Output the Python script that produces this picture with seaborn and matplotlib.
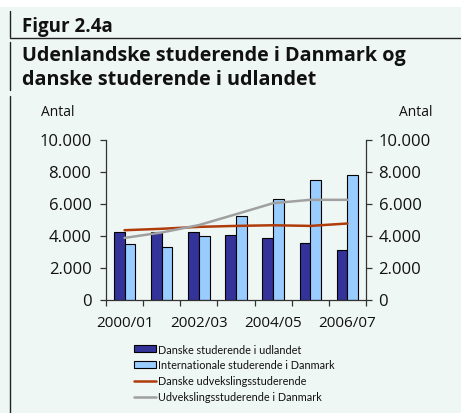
import numpy as np
import pandas as pd
import matplotlib
matplotlib.use("Agg")
import matplotlib.pyplot as plt
from matplotlib.patches import Patch, Rectangle
from matplotlib.lines import Line2D
from matplotlib.ticker import FuncFormatter
import seaborn as sns

# ---------------- data ----------------
years = ["2000/01", "2001/02", "2002/03", "2003/04", "2004/05", "2005/06", "2006/07"]
danske_udlandet = [4250, 4210, 4210, 4060, 3850, 3520, 3125]
internationale_dk = [3440, 3270, 3940, 5210, 6290, 7460, 7770]
danske_udveksling = [4330, 4420, 4540, 4600, 4640, 4600, 4750]
udveksling_dk = [3850, 4190, 4650, 5330, 6020, 6230, 6230]
series_names = ["Danske studerende i udlandet",
                "Internationale studerende i Danmark",
                "Danske udvekslingsstuderende",
                "Udvekslingsstuderende i Danmark"]
label_years = ["2000/01", "2002/03", "2004/05", "2006/07"]
yticks = [0, 2000, 4000, 6000, 8000, 10000]

colors = ["#333399", "#99ccff", "#b03c0c", "#a0a0a0"]
bg = "#eff7f4"

bars = pd.DataFrame({
    "year": years * 2,
    "value": danske_udlandet + internationale_dk,
    "series": [series_names[0]] * len(years) + [series_names[1]] * len(years),
})
lines = pd.DataFrame({
    "pos": list(range(len(years))) * 2,
    "value": danske_udveksling + udveksling_dk,
    "series": [series_names[2]] * len(years) + [series_names[3]] * len(years),
})

sns.set_theme(style="white")
main_font = ["Open Sans", "DejaVu Sans"]
leg_font = ["Lato", "DejaVu Sans"]
plt.rcParams["font.family"] = main_font

W, H = 461, 414
fig = plt.figure(figsize=(W / 100, H / 100), dpi=100)
fig.patch.set_facecolor(bg)

def fx(x):
    return x / W

def fy(y):
    return 1 - y / H

# white band at top
fig.add_artist(Rectangle((0, fy(8)), 1, 8 / H, transform=fig.transFigure,
                         facecolor="white", edgecolor="none", zorder=0))
# frame lines
lc = "#222222"
for (y0, y1) in [(12, 38), (43, 91), (97, 414)]:
    fig.add_artist(Line2D([fx(9.5), fx(9.5)], [fy(y0), fy(y1)], color=lc, lw=1.0))
fig.add_artist(Line2D([fx(9.5), 1], [fy(39), fy(39)], color=lc, lw=1.0))

txt = "#111111"
fig.text(fx(22), fy(32), "Figur 2.4a", fontsize=13.5, fontweight="bold",
         color=txt, va="baseline", ha="left")
fig.text(fx(22), fy(61), "Udenlandske studerende i Danmark og", fontsize=14.2,
         fontweight="bold", color=txt, va="baseline", ha="left")
fig.text(fx(22), fy(85), "danske studerende i udlandet", fontsize=14.2,
         fontweight="bold", color=txt, va="baseline", ha="left")
fig.text(fx(41), fy(116), "Antal", fontsize=10, color=txt, va="baseline", ha="left")
fig.text(fx(432), fy(116), "Antal", fontsize=10, color=txt, va="baseline", ha="right")

# axes
left, right, top, bottom = 106, 366, 140.5, 300.5
ax = fig.add_axes([fx(left), fy(bottom), (right - left) / W, (bottom - top) / H])
ax.set_facecolor("none")

sns.barplot(data=bars, x="year", y="value", hue="series", order=years,
            hue_order=series_names[:2], palette=colors[:2], width=0.58,
            edgecolor="black", linewidth=0.8, saturation=1, ax=ax, legend=False)
sns.lineplot(data=lines, x="pos", y="value", hue="series",
             hue_order=series_names[2:], palette=colors[2:], linewidth=1.8,
             ax=ax, legend=False, zorder=5)

ax.set_xlim(-0.5, len(years) - 0.5)
ax.set_ylim(0, 10000)
ax.set_xlabel("")
ax.set_ylabel("")

fmt = FuncFormatter(lambda v, p: f"{int(v):,}".replace(",", "."))
ax.set_yticks(yticks)
ax.yaxis.set_major_formatter(fmt)

ax.set_xticks(np.arange(-0.5, len(years), 1.0))
ax.set_xticklabels([])
ax.set_xticks([years.index(y) for y in label_years], minor=True)
ax.set_xticklabels(label_years, minor=True)

ax.tick_params(axis="x", which="major", length=4, width=0.9, color="#333333",
               direction="out", bottom=True)
ax.tick_params(axis="x", which="minor", length=0, pad=11, labelsize=11,
               labelcolor=txt, bottom=True)
ax.tick_params(axis="y", length=4, width=0.9, color="#333333", direction="out",
               left=True, pad=6.5, labelsize=12, labelcolor=txt)

for s in ["top", "right"]:
    ax.spines[s].set_visible(False)
for s in ["left", "bottom"]:
    ax.spines[s].set_color("#333333")
    ax.spines[s].set_linewidth(0.9)

ax2 = ax.twinx()
ax2.set_ylim(0, 10000)
ax2.set_yticks(yticks)
ax2.yaxis.set_major_formatter(fmt)
ax2.tick_params(axis="y", length=4, width=0.9, color="#333333", direction="out",
                right=True, pad=5, labelsize=12, labelcolor=txt)
for s in ["top", "left", "bottom"]:
    ax2.spines[s].set_visible(False)
ax2.spines["right"].set_color("#333333")
ax2.spines["right"].set_linewidth(0.9)
ax2.set_facecolor("none")

handles = [Patch(facecolor=colors[0], edgecolor="black", linewidth=0.8),
           Patch(facecolor=colors[1], edgecolor="black", linewidth=0.8),
           Line2D([0], [0], color=colors[2], lw=1.8),
           Line2D([0], [0], color=colors[3], lw=1.8)]
leg = fig.legend(handles, series_names, loc="upper left",
                 bbox_to_anchor=(fx(126), fy(337)), frameon=False,
                 prop={"family": leg_font, "size": 7.8},
                 handlelength=2.1, handleheight=0.55,
                 handletextpad=0.2, labelspacing=0.45, borderpad=0.2)
for t in leg.get_texts():
    t.set_color(txt)

fig.savefig("out.png", dpi=100, facecolor=fig.get_facecolor())
